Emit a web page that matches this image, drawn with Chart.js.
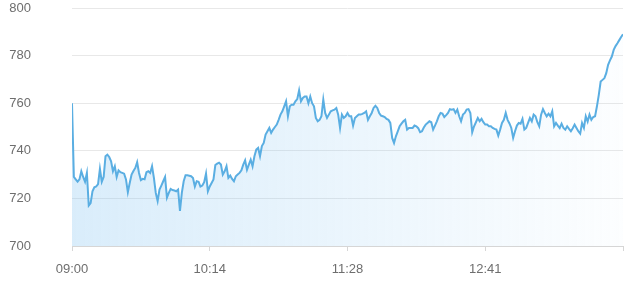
<!DOCTYPE html>
<html>
<head>
<meta charset="utf-8">
<script src="https://cdn.jsdelivr.net/npm/chart.js@4/dist/chart.umd.min.js"></script>
<style>
  body { margin: 0; background: #fff; }
  #wrap { width: 640px; height: 290px; }
</style>
</head>
<body>
<div id="wrap"><canvas id="priceChart"></canvas></div>
<script>
// tick positions (minute index) and their labels
const tickIndex = [0, 74, 148, 222, 296];
const tickLabels = ["09:00", "10:14", "11:28", "12:41", ""];
const yTicks = [700, 720, 740, 760, 780, 800];

// one value per minute
const prices = [
  760, 729, 728, 727, 728, 731.4, 729, 727, 730.7, 717,
  718, 723, 724.7, 725, 726, 732.4, 727, 729, 737.7, 738.4,
  737.4, 735.6, 731.4, 733.5, 729, 731.8, 731, 730.7, 730.4, 728,
  722.6, 726.5, 730, 731.5, 732.8, 735.2, 730.7, 727.7, 728.2, 728,
  731, 731.4, 730.7, 733.5, 728.6, 722.3, 718.9, 723.7, 725.4, 727.2,
  729, 720.3, 722.3, 724, 723.5, 723.3, 723, 723.7, 714.7, 722.3,
  727.2, 729.7, 729.7, 729.5, 729.3, 728.6, 725, 727.2, 727, 725,
  725.4, 726.8, 730.4, 723, 725, 726.5, 728, 734, 734.6, 735,
  734.2, 730, 731.4, 733.5, 728.6, 729.6, 728.2, 727.2, 729.3, 730,
  730.7, 731.8, 734.2, 736, 732, 734.2, 736.3, 733.5, 737.7, 740.5,
  741.2, 737.7, 742, 743.3, 746.8, 748.2, 749.6, 747.5, 748.9, 750,
  751, 753, 755.2, 756.6, 758.7, 760.8, 754.5, 758.7, 759.4, 759.4,
  760.8, 761.7, 765.4, 760.8, 762.2, 762.8, 762.8, 760, 762.8, 760,
  758.7, 753.8, 752.4, 753, 754.5, 761.5, 755.9, 753.8, 755.2, 756.6,
  757, 757.3, 758, 755.2, 749.6, 755.2, 753.8, 754.5, 755.9, 754.5,
  754.5, 750.6, 753.8, 754.5, 755.2, 755.2, 755.5, 755.9, 756.6, 753,
  754.5, 755.9, 758, 758.9, 758, 755.9, 754.8, 754.5, 754.2, 753.4,
  753, 751.7, 745.4, 743.3, 746.1, 748.2, 750.3, 751.4, 752.4, 753,
  748.9, 749.6, 749.6, 749.6, 750.6, 750.3, 749.5, 747.8, 748.2, 749.8,
  751, 751.7, 752.4, 752, 748.9, 750.6, 752.4, 754.5, 755.9, 755.6,
  754.2, 755, 755.9, 757.5, 757.3, 757.5, 755.9, 757.3, 754.5, 752.4,
  755.2, 755.9, 757.3, 757.5, 755.9, 747.8, 750.3, 752, 753.8, 752.4,
  753.4, 752, 751, 751, 750.3, 750.3, 749.6, 749.2, 748.9, 746.4,
  748.9, 751.7, 753, 755.9, 753, 751.5, 749.6, 745.4, 748.2, 750.6,
  751.7, 751.4, 753.4, 748.9, 749.6, 751.7, 753.8, 752.4, 755.2, 754.5,
  752, 750.3, 755.2, 757.5, 755.9, 754.5, 755.6, 754.5, 756.6, 750.3,
  751.7, 750.6, 749.6, 751.4, 749.6, 748.9, 750.3, 749.2, 748.2, 749.5,
  751, 749.6, 748.2, 747.2, 751.7, 749.6, 754.5, 752.3, 755.2, 753,
  754.2, 754.5, 758.7, 763.5, 769.1, 769.8, 770.5, 772.6, 776.1, 778,
  779.6, 782.4, 784, 785.2, 786.5, 787.8, 789
];

const labelColor = "#6e6e6e";
const labelFont = { family: "'Liberation Sans', Arial, sans-serif", size: 13 };

function areaFill(context) {
  const { ctx, chartArea } = context.chart;
  if (!chartArea) return "rgba(120, 190, 240, 0.3)";
  const g = ctx.createLinearGradient(chartArea.left, 0, chartArea.right, 0);
  g.addColorStop(0, "rgba(120, 190, 240, 0.28)");
  g.addColorStop(1, "rgba(120, 190, 240, 0.02)");
  return g;
}

const ctx = document.getElementById("priceChart").getContext("2d");
const chart = new Chart(ctx, {
  type: "line",
  data: {
    datasets: [
      {
        data: prices.map((v, i) => ({ x: i, y: v })),
        borderColor: "#5aaee2",
        borderWidth: 2,
        backgroundColor: areaFill,
        fill: "start",
        pointRadius: 0,
        tension: 0,
      },
    ],
  },
  options: {
    responsive: true,
    maintainAspectRatio: false,
    animation: false,
    layout: { padding: { top: 8, right: 17, bottom: 0, left: 0 } },
    plugins: {
      legend: { display: false },
      tooltip: { enabled: false },
    },
    scales: {
      x: {
        type: "linear",
        min: tickIndex[0],
        max: tickIndex[tickIndex.length - 1],
        afterBuildTicks: (axis) => {
          axis.ticks = tickIndex.map((v) => ({ value: v }));
        },
        afterFit: (axis) => {
          axis.height = 44;
        },
        ticks: {
          autoSkip: false,
          maxRotation: 0,
          color: labelColor,
          font: labelFont,
          padding: 11,
          callback: (value, index) => tickLabels[index],
        },
        grid: {
          drawOnChartArea: false,
          tickLength: 5,
          color: "#d6d6d6",
        },
        border: { color: "#d6d6d6" },
      },
      y: {
        min: yTicks[0],
        max: yTicks[yTicks.length - 1],
        afterBuildTicks: (axis) => {
          axis.ticks = yTicks.map((v) => ({ value: v }));
        },
        afterFit: (axis) => {
          axis.width = 72;
          // tick padding is only meant to push labels sideways
          axis.paddingTop = 0;
          axis.paddingBottom = 0;
        },
        ticks: {
          color: labelColor,
          font: labelFont,
          padding: 41,
        },
        grid: {
          drawTicks: false,
          color: "#e8e8e8",
        },
        border: { display: false },
      },
    },
  },
});
</script>
</body>
</html>
